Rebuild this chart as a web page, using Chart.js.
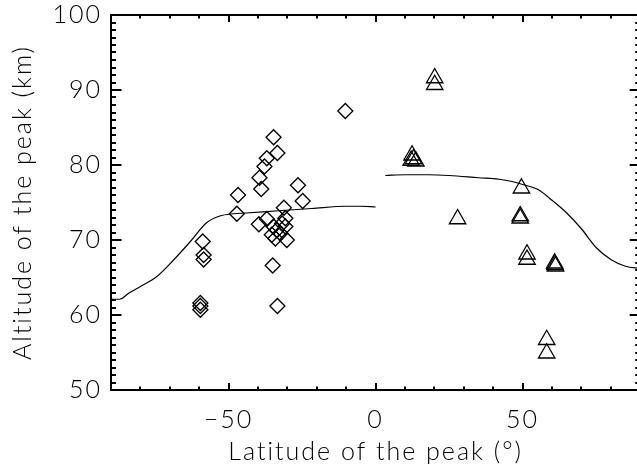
<!DOCTYPE html>
<html>
<head>
<meta charset="utf-8">
<script src="https://cdn.jsdelivr.net/npm/chart.js@4.4.1/dist/chart.umd.min.js"></script>
<style>
  html, body { margin: 0; padding: 0; background: #fff; overflow: hidden; width: 637px; height: 464px; }
  canvas { display: block; }
</style>
</head>
<body>
<canvas id="grafica" width="651" height="464"></canvas>
<script>
// ===============================
// DATOS
// ===============================

// diamantes: hemisferio sur (latitud, altitud)
const latSur = [-10.3, -34.7, -33.4, -37.0, -37.8, -39.5, -38.9, -46.8, -26.4, -24.8, -47.2, -31.2, -37.0, -39.7,
                -34.7, -33.6, -32.4, -30.2, -30.7, -30.7, -35.3, -34.1, -31.8,
                -58.8, -58.5, -58.5, -35.0, -59.6, -59.6, -59.6, -33.4];
const altSur = [87.2, 83.7, 81.6, 80.9, 79.8, 78.3, 76.8, 76.0, 77.3, 75.2, 73.5, 74.3, 72.8, 72.1,
                71.8, 71.3, 70.9, 70.0, 71.8, 72.9, 70.7, 70.2, 72.2,
                69.8, 68.0, 67.4, 66.6, 61.6, 61.2, 60.7, 61.2];

// triangulos: hemisferio norte
const latNorte = [20.1, 20.1, 12.4, 12.9, 13.7, 12.1, 49.6, 49.2, 49.2, 27.9, 51.5, 51.5, 60.9, 61.0, 61.2, 58.2, 58.2];
const altNorte = [91.6, 90.7, 81.3, 80.8, 80.5, 80.6, 76.9, 73.2, 72.9, 72.8, 68.1, 67.4, 66.9, 66.7, 66.5, 56.7, 54.9];

// curva modelo, sur
const curvaSurLat = [-90, -87, -84, -80, -74.5, -68.8, -63, -57.5, -53, -48.4, -44, -33, -21.7, -10, -5, 0];
const curvaSurAlt = [62.1, 62.1, 62.9, 63.8, 65.1, 67.3, 69.8, 72.3, 73.2, 73.5, 73.6, 73.9, 74.2, 74.5, 74.5, 74.4];

// curva modelo, norte
const curvaNorteLat = [3.3, 10, 18, 25, 35, 42, 46.4, 50, 55.4, 60, 65, 70, 75, 80, 85, 90];
const curvaNorteAlt = [78.6, 78.7, 78.7, 78.6, 78.3, 78.1, 77.8, 77.4, 76.7, 75.3, 73.6, 71.5, 69.0, 67.4, 66.5, 66.2];

// ejes
const xTicks = [-50, 0, 50];
const xTickLabels = ["\u221250", "0", "50"];
const yTicks = [50, 60, 70, 80, 90, 100];
const yTickLabels = ["50", "60", "70", "80", "90", "100"];

const tituloX = "Latitude of the peak (\u00b0)";
const tituloY = "Altitude of the peak (km)";


function puntos(xs, ys) {
    return xs.map((x, i) => ({ x: x, y: ys[i] }));
}


// ===============================
// MARCAS DE EJE HACIA DENTRO (estilo IDL)
// ===============================

const marcasIDL = {
    id: "marcasIDL",
    beforeDraw(chart) {
        // letras mas separadas, como la fuente Hershey
        chart.ctx.letterSpacing = "2px";
    },
    afterDraw(chart) {
        const ctx = chart.ctx;
        const a = chart.chartArea;
        const sx = chart.scales.x;
        const sy = chart.scales.y;

        ctx.save();
        ctx.strokeStyle = "#000";
        ctx.lineWidth = 2;
        ctx.lineCap = "butt";

        ctx.strokeRect(a.left, a.top, a.right - a.left, a.bottom - a.top);

        ctx.beginPath();
        for (let v = sx.min; v <= sx.max; v += 10) {
            const px = Math.round(sx.getPixelForValue(v));
            const len = (v % 50 === 0) ? 7 : 3.5;
            ctx.moveTo(px, a.bottom); ctx.lineTo(px, a.bottom - len);
            ctx.moveTo(px, a.top); ctx.lineTo(px, a.top + len);
        }
        for (let v = sy.min; v <= sy.max; v += 1) {
            const py = Math.round(sy.getPixelForValue(v));
            const len = (v % 10 === 0) ? 10.5 : 5;
            ctx.moveTo(a.left, py); ctx.lineTo(a.left + len, py);
            ctx.moveTo(a.right, py); ctx.lineTo(a.right - len, py);
        }
        ctx.stroke();
        ctx.restore();
    }
};

function sinRelleno(s) {
    s.paddingLeft = 0;
    s.paddingRight = 0;
    s.paddingTop = 0;
    s.paddingBottom = 0;
}


// ===============================
// GRAFICA
// ===============================

const fuente = { family: "Lato, 'DejaVu Sans', sans-serif", size: 25, weight: 300 };
const fuenteTitulo = { family: "Lato, 'DejaVu Sans', sans-serif", size: 25, weight: 300, lineHeight: 1 };

new Chart(document.getElementById("grafica"), {

    type: "scatter",

    data: {
        datasets: [
            {
                data: puntos(latSur, altSur),
                pointStyle: "rectRot",
                pointRadius: 7.5,
                borderColor: "#000",
                backgroundColor: "rgba(0,0,0,0)",
                borderWidth: 1.3
            },
            {
                data: puntos(latNorte, altNorte),
                pointStyle: "triangle",
                pointRadius: 9.5,
                borderColor: "#000",
                backgroundColor: "rgba(0,0,0,0)",
                borderWidth: 1.3
            },
            {
                data: puntos(curvaSurLat, curvaSurAlt),
                showLine: true,
                pointRadius: 0,
                borderColor: "#000",
                borderWidth: 1.2,
                cubicInterpolationMode: "monotone"
            },
            {
                data: puntos(curvaNorteLat, curvaNorteAlt),
                showLine: true,
                pointRadius: 0,
                borderColor: "#000",
                borderWidth: 1.2,
                cubicInterpolationMode: "monotone"
            }
        ]
    },

    options: {
        responsive: false,
        animation: false,
        devicePixelRatio: 1,
        clip: false,
        layout: { padding: { top: 15, right: 2, left: 0, bottom: 0 } },
        plugins: {
            legend: { display: false },
            tooltip: { enabled: false }
        },
        scales: {
            x: {
                type: "linear",
                min: -90,
                max: 90,
                grid: { display: false, drawTicks: false },
                border: { display: false },
                afterFit: s => { s.height = 74; sinRelleno(s); },
                afterBuildTicks: s => { s.ticks = xTicks.map(v => ({ value: v })); },
                ticks: {
                    color: "#000",
                    font: fuente,
                    padding: 15,
                    maxRotation: 0,
                    callback: v => xTickLabels[xTicks.indexOf(v)]
                },
                title: {
                    display: true,
                    text: tituloX,
                    color: "#000",
                    font: fuenteTitulo,
                    padding: { top: 0, bottom: 0 }
                }
            },
            y: {
                type: "linear",
                min: 50,
                max: 100,
                grid: { display: false, drawTicks: false },
                border: { display: false },
                afterFit: s => { s.width = 111; sinRelleno(s); },
                afterBuildTicks: s => { s.ticks = yTicks.map(v => ({ value: v })); },
                ticks: {
                    color: "#000",
                    font: fuente,
                    padding: 9,
                    callback: v => yTickLabels[yTicks.indexOf(v)]
                },
                title: {
                    display: true,
                    text: tituloY,
                    color: "#000",
                    font: fuenteTitulo,
                    padding: { top: 10.5, bottom: 0 }
                }
            }
        }
    },

    plugins: [marcasIDL]
});
</script>
</body>
</html>
